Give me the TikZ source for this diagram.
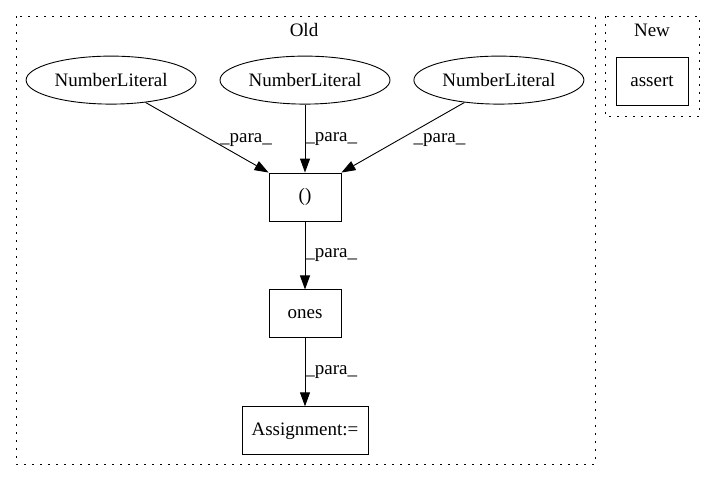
\documentclass[tikz,border=0pt]{standalone}
\usepackage{fontspec}
\setmainfont{Liberation Serif}
\usetikzlibrary{arrows.meta, positioning, shapes.geometric}

\begin{document}
\begin{tikzpicture}[
  x=1pt, y=-1pt,
  every node/.style = {font=\fontsize{19}{21}\selectfont},
  box/.style = {draw, line width=0.9pt, minimum height=48pt, minimum width=72pt, inner sep=0pt},
  literal/.style = {draw, ellipse, line width=0.9pt, minimum height=48pt, minimum width=170pt, inner sep=0pt},
  cluster/.style = {line width=0.9pt, dash pattern=on 1.6pt off 6.4pt},
  arrow/.style = {line width=0.9pt, -{Triangle[length=14pt, width=10pt]}},
  lbl/.style = {anchor=west, inner sep=0pt},
  node distance=68pt and 23pt
]
\useasboundingbox (0,0) rectangle (715,480);

% ======================================================
% Clusters
% ======================================================
\draw[cluster] (16,16) rectangle (595,464);
\node (oldlabel) at (304,30) {Old};
\draw[cluster] (605,16) rectangle (699,116);
\node (newlabel) at (652,30) {New};

% ======================================================
% Old: literals feeding the tuple
% ======================================================
\node[box] (paren) at (305,197) {()};
\node[literal, above=of paren] (lit2) {NumberLiteral};
\node[literal, left=of lit2] (lit1) {NumberLiteral};
\node[literal, right=of lit2] (lit3) {NumberLiteral};

\draw[arrow] (lit1.-33) -- node[lbl, pos=0.53, xshift=9pt] {\_para\_} (paren.north west);
\draw[arrow] (lit2.south) -- node[lbl, pos=0.5] {\_para\_} (paren.north);
\draw[arrow] (lit3.-147) -- node[lbl, pos=0.53, xshift=14pt] {\_para\_} (paren.north east);

% ones and the assignment below
\node[box, below=of paren] (ones) {ones};
\node[box, below=of ones, minimum width=126pt] (assign) {Assignment:=};

\draw[arrow] (paren) -- node[lbl, pos=0.5] {\_para\_} (ones);
\draw[arrow] (ones) -- node[lbl, pos=0.5] {\_para\_} (assign);

% ======================================================
% New
% ======================================================
\node[box] (assert) at (652,81) {assert};
\end{tikzpicture}
\end{document}
